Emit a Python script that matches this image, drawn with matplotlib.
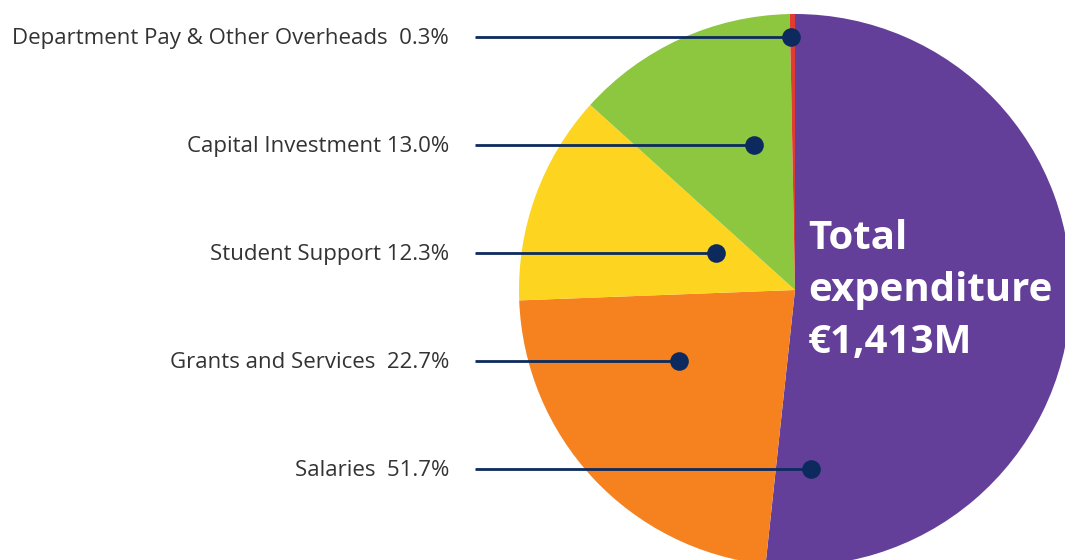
import matplotlib
matplotlib.use("Agg")
import matplotlib.pyplot as plt

# Data
categories = ["Salaries", "Grants and Services", "Student Support",
              "Capital Investment", "Department Pay & Other Overheads"]
shares = [51.7, 22.7, 12.3, 13.0, 0.3]
label_texts = ["Salaries  51.7%", "Grants and Services  22.7%", "Student Support 12.3%",
               "Capital Investment 13.0%", "Department Pay & Other Overheads  0.3%"]
total_text = "Total\nexpenditure\n€1,413M"

colors = ["#633f99", "#f5821f", "#fdd41f", "#8dc63f", "#e03c31"]
navy = "#0c2a5e"

W, H = 1065, 560
fig = plt.figure(figsize=(W / 100, H / 100), dpi=100)
ax = fig.add_axes([0, 0, 1, 1])

cx, cy, R = 795, H - 290, 276
ax.pie(shares, colors=colors, startangle=90, counterclock=False,
       center=(cx, cy), radius=R, frame=True,
       wedgeprops=dict(linewidth=0))

ax.set_xlim(0, W)
ax.set_ylim(0, H)
ax.set_aspect("equal")
ax.axis("off")

# label layout (pixel y from top, dot x)
label_y = [469, 361, 253, 145, 37]
dot_x = [811, 679, 716, 754, 791]
line_x0 = 475
text_x = 449

for txt, ly, dx in zip(label_texts, label_y, dot_x):
    y = H - ly
    ax.plot([line_x0, dx], [y, y], color=navy, lw=2, solid_capstyle="butt", zorder=3)
    ax.scatter([dx], [y], s=180, color=navy, zorder=4, linewidths=0)
    ax.text(text_x, y - 7, txt, ha="right", va="baseline", fontsize=16,
            family="Open Sans", color="#333333")

ax.text(808, H - 219, total_text, ha="left", va="top", fontsize=29,
        family="Open Sans", fontweight="bold", color="white",
        linespacing=1.43, zorder=5)

fig.savefig("out.png", dpi=100)
